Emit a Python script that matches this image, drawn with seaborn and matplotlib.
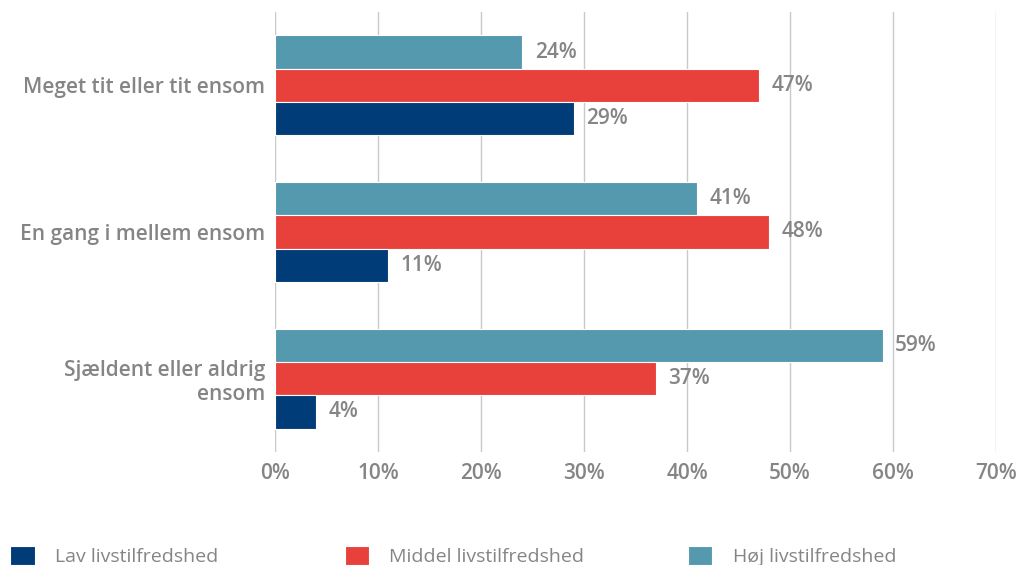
import matplotlib.pyplot as plt
import matplotlib.ticker as mticker
import pandas as pd
import seaborn as sns

categories = ['Meget tit eller tit ensom', 'En gang i mellem ensom', 'Sjældent eller aldrig\nensom']
groups = ['Lav livstilfredshed', 'Middel livstilfredshed', 'Høj livstilfredshed']
lav = [29, 11, 4]
middel = [47, 48, 37]
hoej = [24, 41, 59]
colors = {'Lav livstilfredshed': '#003d78',
          'Middel livstilfredshed': '#e8413c',
          'Høj livstilfredshed': '#5499ae'}

frame = pd.DataFrame({
    'kategori': categories * 3,
    'gruppe': [g for g in groups for _ in categories],
    'andel': lav + middel + hoej,
})

sns.set_style('white')
plt.rcParams['font.family'] = ['Open Sans', 'DejaVu Sans']
grey = '#858585'

fig = plt.figure(figsize=(10.16, 5.65), dpi=100)
ax = fig.add_axes([0.2707, 0.2, 0.7096, 0.7788])

# top to bottom inside each group: Høj, Middel, Lav
sns.barplot(
    data=frame, x='andel', y='kategori', hue='gruppe', order=categories,
    hue_order=groups[::-1], palette=colors, saturation=1, orient='h',
    width=0.68, edgecolor='white', linewidth=0.8, ax=ax, zorder=2,
)

for cont in ax.containers:
    ax.bar_label(cont, fmt='%d%%', padding=9, color=grey, fontsize=15,
                 fontweight='semibold')

handles, labels = ax.get_legend_handles_labels()
ax.get_legend().remove()
lookup = dict(zip(labels, handles))

ax.set_xlim(0, 70)
ax.set_ylim(2.5, -0.5)
ax.xaxis.set_major_locator(mticker.MultipleLocator(10))
ax.xaxis.set_major_formatter(mticker.PercentFormatter(decimals=0))
ax.grid(axis='x', color='#c9c9c9', lw=1, zorder=0)
ax.grid(axis='y', visible=False)
for s in ax.spines.values():
    s.set_visible(False)
ax.tick_params(axis='both', length=0, labelsize=15, labelcolor=grey)
ax.tick_params(axis='y', pad=7)
ax.tick_params(axis='x', pad=8)
for lab in ax.get_xticklabels() + ax.get_yticklabels():
    lab.set_fontweight('semibold')
ax.set_xlabel(None)
ax.set_ylabel(None)

for name, x0 in zip(groups, [-0.007, 0.322, 0.660]):
    fig.legend(
        [lookup[name]], [name], loc='center left', bbox_to_anchor=(x0, 0.016),
        frameon=False, fontsize=14, labelcolor=grey, handlelength=1.25,
        handleheight=1.15, handletextpad=1.05,
    )

fig.savefig('out.png', dpi=100)
